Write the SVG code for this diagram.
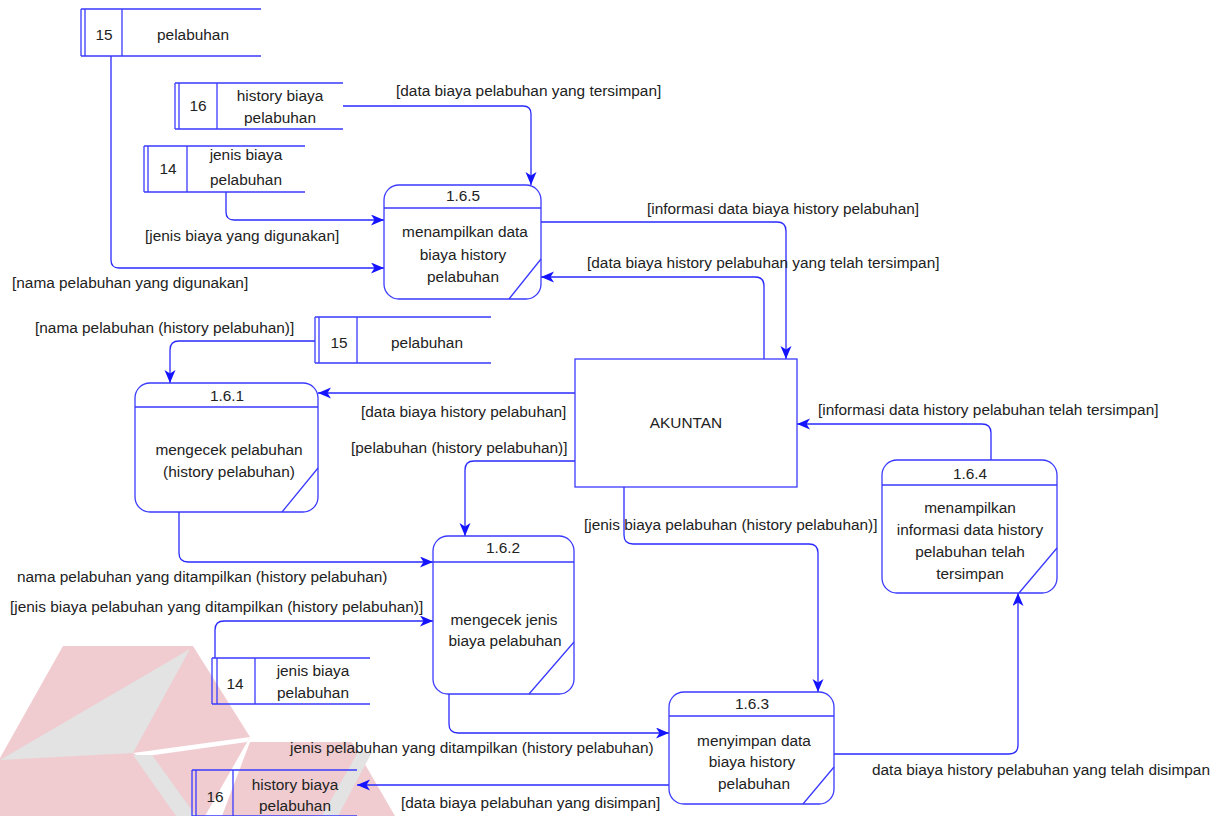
<svg xmlns="http://www.w3.org/2000/svg" width="1227" height="816" viewBox="0 0 1227 816">
  <defs>
    <marker id="arrow" markerUnits="userSpaceOnUse" markerWidth="14" markerHeight="12" refX="13" refY="5.5" orient="auto">
      <path d="M0,0 L13,5.5 L0,11 L3.5,5.5 Z" fill="#1414ff"/>
    </marker>
  </defs>
  <style>
    text { font-family: "Liberation Sans", Arial, sans-serif; font-size: 15.4px; fill: #222; }
    .c { text-anchor: middle; }
    .shape { fill: none; stroke: #3a3aff; stroke-width: 1.3; }
    .box { fill: #fff; stroke: #3a3aff; stroke-width: 1.3; }
    .flow { fill: none; stroke: #2a2aff; stroke-width: 1.3; marker-end: url(#arrow); }
  </style>

  <rect width="1227" height="816" fill="#fff"/>

  <!-- faint logo mark, lower left -->
  <g id="logo" opacity="0.5">
    <polygon points="63,646 193,646 250,737 205,816 0,816 0,758" fill="#e29aa3"/>
    <polygon points="190,649 0,760 133,753" fill="#c8c8c8"/>
    <polygon points="133,753 250,737 247,742 140,757" fill="#ffffff"/>
    <polygon points="133,755 152,755 196,816 176,816" fill="#c8c8c8"/>
    <polygon points="250,742 352,742 395,816 222,816" fill="#e29aa3"/>
    <polygon points="372,752 338,816 322,816 358,752" fill="#c8c8c8"/>
  </g>

  <!-- connectors -->
  <g id="connectors">
    <path class="flow" d="M111,56 V260 Q111,268 119,268 H384"/>
    <path class="flow" d="M226,192 V212 Q226,220 234,220 H384"/>
    <path class="flow" d="M343,106 H523 Q531,106 531,114 V185"/>
    <path class="flow" d="M541,222 H777 Q786,222 786,231 V359"/>
    <path class="flow" d="M764,359 V286 Q764,277 755,277 H541"/>
    <path class="flow" d="M315,341 H179 Q170,341 170,350 V383"/>
    <path class="flow" d="M575,393 H318"/>
    <path class="flow" d="M575,461 H474 Q465,461 465,470 V536"/>
    <path class="flow" d="M624,487 V535 Q624,544 633,544 H809 Q818,544 818,553 V692"/>
    <path class="flow" d="M991,460 V433 Q991,424 982,424 H797"/>
    <path class="flow" d="M179,512 V553 Q179,562 188,562 H433"/>
    <path class="flow" d="M215,658 V630 Q215,621 224,621 H433"/>
    <path class="flow" d="M449,694 V724 Q449,733 458,733 H669"/>
    <path class="flow" d="M834,754 H1009 Q1018,754 1018,745 V593"/>
    <path class="flow" d="M669,785 H357"/>
  </g>

  <!-- connector labels -->
  <g id="labels">
    <text x="396" y="96">[data biaya pelabuhan yang tersimpan]</text>
    <text x="647" y="214">[informasi data biaya history pelabuhan]</text>
    <text x="145" y="241">[jenis biaya yang digunakan]</text>
    <text x="587" y="268">[data biaya history pelabuhan yang telah tersimpan]</text>
    <text x="12" y="288">[nama pelabuhan yang digunakan]</text>
    <text x="35" y="333">[nama pelabuhan (history pelabuhan)]</text>
    <text x="361" y="417">[data biaya history pelabuhan]</text>
    <text x="818" y="415">[informasi data history pelabuhan telah tersimpan]</text>
    <text x="351" y="453">[pelabuhan (history pelabuhan)]</text>
    <text x="584" y="530">[jenis biaya pelabuhan (history pelabuhan)]</text>
    <text x="17" y="582">nama pelabuhan yang ditampilkan (history pelabuhan)</text>
    <text x="10" y="612">[jenis biaya pelabuhan yang ditampilkan (history pelabuhan)]</text>
    <text x="290" y="753">jenis pelabuhan yang ditampilkan (history pelabuhan)</text>
    <text x="872" y="775">data biaya history pelabuhan yang telah disimpan</text>
    <text x="401" y="808">[data biaya pelabuhan yang disimpan]</text>
  </g>

  <!-- data stores -->
  <g id="store-15-top">
    <path class="shape" d="M81,9 H261 M81,56 H261 M81,9 V56 M85,9 V56 M122,9 V56"/>
    <text class="c" x="104" y="40">15</text>
    <text class="c" x="193" y="40">pelabuhan</text>
  </g>
  <g id="store-16-top">
    <path class="shape" d="M175,83 H343 M175,129 H343 M175,83 V129 M179,83 V129 M217,83 V129"/>
    <text class="c" x="198" y="111">16</text>
    <text class="c" x="280" y="101">history biaya</text>
    <text class="c" x="280" y="123">pelabuhan</text>
  </g>
  <g id="store-14-top">
    <path class="shape" d="M144,146 H305 M144,192 H305 M144,146 V192 M148,146 V192 M187,146 V192"/>
    <text class="c" x="168" y="174">14</text>
    <text class="c" x="246" y="160">jenis biaya</text>
    <text class="c" x="246" y="185">pelabuhan</text>
  </g>
  <g id="store-15-mid">
    <path class="shape" d="M315,317 H491 M315,363 H491 M315,317 V363 M319,317 V363 M357,317 V363"/>
    <text class="c" x="339" y="348">15</text>
    <text class="c" x="427" y="348">pelabuhan</text>
  </g>
  <g id="store-14-bottom">
    <path class="shape" d="M212,658 H370 M212,704 H370 M212,658 V704 M217,658 V704 M255,658 V704"/>
    <text class="c" x="235" y="689">14</text>
    <text class="c" x="313" y="676">jenis biaya</text>
    <text class="c" x="313" y="698">pelabuhan</text>
  </g>
  <g id="store-16-bottom">
    <path class="shape" d="M192,770 H357 M192,816 H357 M192,770 V816 M196,770 V816 M233,770 V816"/>
    <text class="c" x="215" y="802">16</text>
    <text class="c" x="295" y="790">history biaya</text>
    <text class="c" x="295" y="811">pelabuhan</text>
  </g>

  <!-- external entity -->
  <g id="akuntan">
    <rect class="box" x="575" y="359" width="222" height="128"/>
    <text class="c" x="686" y="428">AKUNTAN</text>
  </g>

  <!-- processes -->
  <g id="proc-1-6-5">
    <rect class="box" x="384" y="185" width="157" height="114" rx="15"/>
    <path class="shape" d="M384,208 H541 M541,259 L509,299"/>
    <text class="c" x="463" y="201">1.6.5</text>
    <text class="c" x="465" y="237">menampilkan data</text>
    <text class="c" x="463" y="260">biaya history</text>
    <text class="c" x="463" y="282">pelabuhan</text>
  </g>
  <g id="proc-1-6-1">
    <rect class="box" x="135" y="383" width="183" height="129" rx="15"/>
    <path class="shape" d="M135,407 H318 M318,468 L282,512"/>
    <text class="c" x="227" y="401">1.6.1</text>
    <text class="c" x="229" y="455">mengecek pelabuhan</text>
    <text class="c" x="229" y="477">(history pelabuhan)</text>
  </g>
  <g id="proc-1-6-2">
    <rect class="box" x="433" y="536" width="141" height="158" rx="15"/>
    <path class="shape" d="M433,562 H574 M574,642 L529,694"/>
    <text class="c" x="503" y="553">1.6.2</text>
    <text class="c" x="504" y="625">mengecek jenis</text>
    <text class="c" x="505" y="646">biaya pelabuhan</text>
  </g>
  <g id="proc-1-6-3">
    <rect class="box" x="669" y="692" width="165" height="112" rx="15"/>
    <path class="shape" d="M669,716 H834 M834,767 L803,804"/>
    <text class="c" x="752" y="709">1.6.3</text>
    <text class="c" x="754" y="746">menyimpan data</text>
    <text class="c" x="752" y="767">biaya history</text>
    <text class="c" x="754" y="789">pelabuhan</text>
  </g>
  <g id="proc-1-6-4">
    <rect class="box" x="882" y="460" width="175" height="133" rx="15"/>
    <path class="shape" d="M882,485 H1057 M1057,548 L1019,593"/>
    <text class="c" x="970" y="479">1.6.4</text>
    <text class="c" x="970" y="513">menampilkan</text>
    <text class="c" x="970" y="535">informasi data history</text>
    <text class="c" x="970" y="557">pelabuhan telah</text>
    <text class="c" x="970" y="579">tersimpan</text>
  </g>
</svg>
